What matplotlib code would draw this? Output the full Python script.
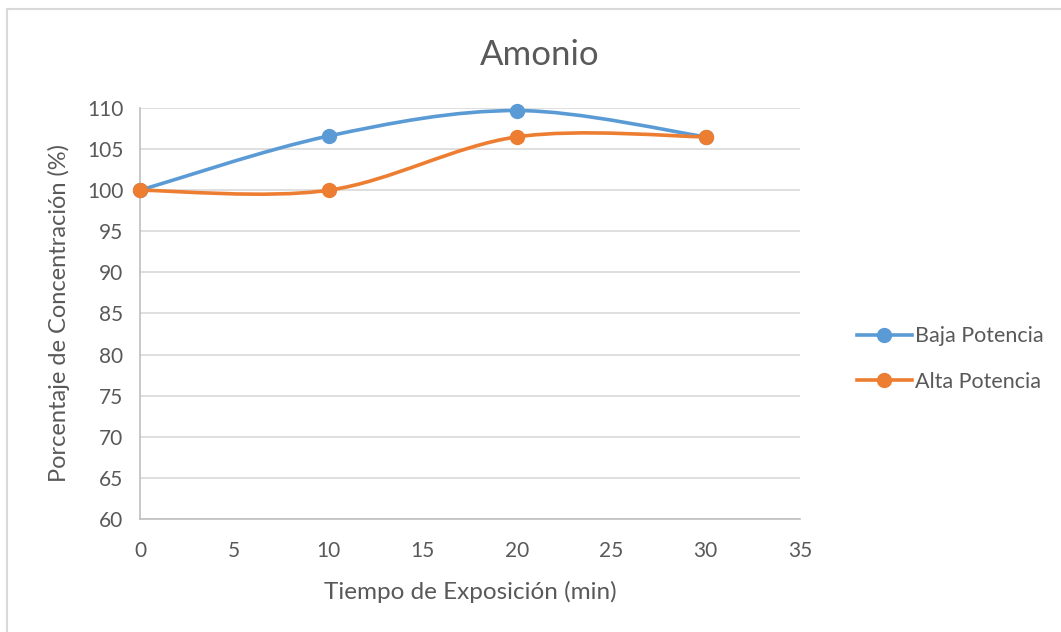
import numpy as np
import matplotlib.pyplot as plt
from matplotlib.path import Path
from matplotlib.patches import PathPatch
from matplotlib.lines import Line2D

tiempo = [0, 10, 20, 30]
baja_potencia = [100, 106.6, 109.7, 106.5]
alta_potencia = [100, 100, 106.5, 106.5]

x_ticks = [0, 5, 10, 15, 20, 25, 30, 35]
y_ticks = [60, 65, 70, 75, 80, 85, 90, 95, 100, 105, 110]

BLUE = "#5B9BD5"
ORANGE = "#ED7D31"
TEXT = "#595959"
GRID = "#D9D9D9"

plt.rcParams["font.family"] = ["Lato", "DejaVu Sans"]


def smooth_path(xs, ys):
    # cardinal spline as cubic bezier segments (same scheme as office charts)
    pts = np.column_stack([xs, ys]).astype(float)
    n = len(pts)
    verts = [pts[0]]
    codes = [Path.MOVETO]
    for i in range(n - 1):
        p0 = pts[i - 1] if i > 0 else pts[i]
        p1 = pts[i]
        p2 = pts[i + 1]
        p3 = pts[i + 2] if i + 2 < n else pts[i + 1]
        c1 = p1 + (p2 - p0) / 6
        c2 = p2 - (p3 - p1) / 6
        verts += [c1, c2, p2]
        codes += [Path.CURVE4] * 3
    return Path(verts, codes)


def draw_series(ax, xs, ys, color, label):
    patch = PathPatch(smooth_path(xs, ys), fill=False, edgecolor=color,
                      linewidth=2.6, capstyle="round", zorder=3)
    ax.add_patch(patch)
    ax.plot(xs, ys, linestyle="none", marker="o", markersize=10,
            color=color, zorder=4, clip_on=False)
    return Line2D([], [], color=color, linewidth=2.6, marker="o",
                  markersize=10, label=label)


fig = plt.figure(figsize=(10.61, 6.32), dpi=100)
ax = fig.add_axes([0.132, 0.179, 0.622, 0.650])

h1 = draw_series(ax, tiempo, baja_potencia, BLUE, "Baja Potencia")
h2 = draw_series(ax, tiempo, alta_potencia, ORANGE, "Alta Potencia")

ax.set_xlim(0, 35)
ax.set_ylim(60, 110)
ax.set_xticks(x_ticks)
ax.set_yticks(y_ticks)
ax.tick_params(length=0, labelsize=15, labelcolor=TEXT)
ax.tick_params(axis="x", pad=16)
ax.tick_params(axis="y", pad=12)
ax.grid(axis="y", color=GRID, linewidth=1.2)
ax.set_axisbelow(True)
for side in ["top", "right"]:
    ax.spines[side].set_visible(False)
for side in ["left", "bottom"]:
    ax.spines[side].set_color("#BFBFBF")
    ax.spines[side].set_linewidth(1.2)

ax.set_xlabel("Tiempo de Exposición (min)", fontsize=17.5, color=TEXT,
              labelpad=14)
ax.set_ylabel("Porcentaje de Concentración (%)", fontsize=17, color=TEXT,
              labelpad=12)

fig.text(0.509, 0.913, "Amonio", ha="center", va="center", fontsize=25,
         color=TEXT)

fig.legend(handles=[h1, h2], loc="center left",
           bbox_to_anchor=(0.789, 0.432), frameon=False, fontsize=15.5,
           labelcolor=TEXT, handlelength=2.6, handletextpad=0.1,
           labelspacing=1.2)

# chart frame
fig.add_artist(plt.Rectangle((0.0066, -0.05), 1.2, 1.036,
                             transform=fig.transFigure, fill=False,
                             edgecolor="#D9D9D9", linewidth=1.5))

fig.savefig("out.png", dpi=100)
